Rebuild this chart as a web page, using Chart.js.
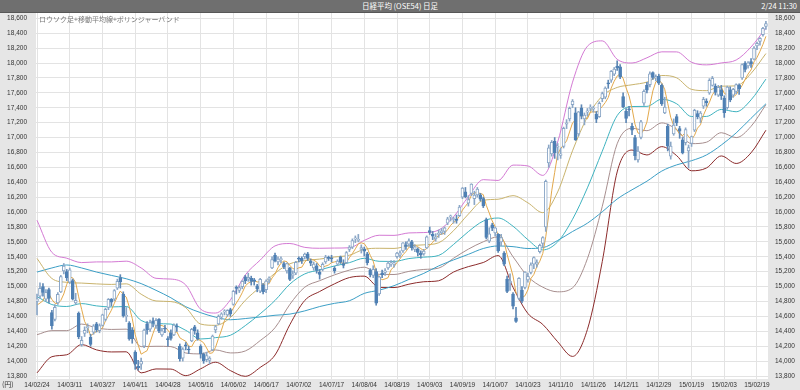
<!DOCTYPE html>
<html>
<head>
<meta charset="utf-8">
<script src="https://cdn.jsdelivr.net/npm/chart.js@4.4.1/dist/chart.umd.min.js"></script>
<style>
  body { margin: 0; background: #fff; }
  #page { position: relative; width: 800px; height: 390px; overflow: hidden; }
  #head { position: absolute; left: 0; top: 0; width: 800px; height: 12px; background: #6f6f6f; border-bottom: 1px solid #575757; color: #fff; font: 7.5px "Noto Sans CJK JP"; line-height: 12px; }
  #head .t { position: absolute; left: 0; right: 0; text-align: center; }
  #head .d { position: absolute; right: 3px; top: 0; }
  #box { position: absolute; left: 0; top: 13px; width: 800px; height: 377px; }
  #sub { position: absolute; left: 39px; top: 14px; font: 7px "Noto Sans CJK JP"; color: #7a7a7a; }
  #yen { position: absolute; left: 2px; top: 379px; font: 7px "Noto Sans CJK JP"; color: #333; }
</style>
</head>
<body>
<div id="page">
  <div id="head"><span class="t">日経平均 (OSE54) 日足</span><span class="d">2/24 11:30</span></div>
  <div id="box"><canvas id="chart" width="800" height="377"></canvas></div>
  <div id="sub">ロウソク足+移動平均線+ボリンジャーバンド</div>
  <div id="yen">(円)</div>
</div>
<script>
// x axis labels, one every 11 sessions
const dates = ['14/02/24','14/03/11','14/03/27','14/04/11','14/04/28','14/05/16','14/06/02','14/06/17',
  '14/07/02','14/07/17','14/08/04','14/08/19','14/09/03','14/09/19','14/10/07','14/10/23','14/11/10',
  '14/11/26','14/12/11','14/12/29','15/01/19','15/02/03','15/02/19'];
const dateIdx = [0,11,22,33,44,55,66,77,88,99,110,121,132,143,154,165,176,187,198,209,220,231,242];
const yTicks = [13800,14000,14200,14400,14600,14800,15000,15200,15400,15600,15800,16000,16200,
  16400,16600,16800,17000,17200,17400,17600,17800,18000,18200,18400,18600];

// daily candles 14/02/24 .. 15/02/24
const opens = [14800,14870,15000,14830,14960,14650,14560,14780,14930,15210,
  15200,15060,15080,14780,14640,14220,14370,14450,14320,14390,
  14500,14410,14480,14560,14720,14830,14830,14980,15120,14900,
  14600,14510,14420,14120,13930,13960,14200,14500,14430,14540,
  14480,14560,14350,14440,14300,14380,14350,14460,14200,14040,
  14220,14150,14270,14460,14380,14200,14090,14020,14010,14150,
  14420,14500,14590,14660,14620,14690,14760,14980,14950,15000,
  15130,15100,15110,15090,15010,14940,15020,14960,15090,15250,
  15420,15330,15360,15310,15210,15250,15150,15180,15370,15380,
  15400,15440,15340,15250,15280,15190,15230,15330,15380,15380,
  15250,15300,15400,15310,15320,15500,15530,15640,15620,15500,
  15500,15440,15220,15150,15200,14900,15180,15190,15250,15300,
  15300,15400,15420,15480,15560,15570,15600,15500,15500,15450,
  15440,15520,15750,15700,15640,15700,15720,15740,15850,15930,
  15900,15900,15950,16200,16270,16120,16250,16180,16230,16230,
  16180,15900,15610,15830,15720,15700,15600,15450,15100,15050,
  14900,14580,14840,14950,14990,15090,15190,15300,15300,15470,
  15580,15800,16660,16780,16950,16870,16760,16880,17180,17250,
  17440,17330,17050,17400,17250,17340,17390,17380,17310,17280,
  17520,17540,17730,17770,17850,17960,17950,17550,17350,17380,
  17150,17000,16700,17000,17460,17700,17710,17870,17800,17820,
  17700,17330,17150,16750,17050,17280,17120,16970,16930,16820,
  16920,17100,17320,17260,17420,17490,17600,17700,17690,17570,
  17640,17530,17400,17640,17570,17620,17700,17800,18000,17960,
  18020,18050,18230,18290,18380,18490];
const highs = [14900,15050,15040,14960,14980,14680,14760,14920,15150,15310,
  15230,15250,15100,14910,14660,14330,14460,14500,14360,14490,
  14520,14500,14630,14710,14840,14840,14960,15100,15160,14930,
  14720,14530,14450,14140,14010,14040,14430,14530,14550,14580,
  14570,14570,14440,14480,14330,14420,14500,14500,14230,14180,
  14250,14200,14440,14480,14420,14220,14110,14120,14060,14350,
  14480,14620,14650,14690,14690,14710,14950,15010,15010,15080,
  15150,15180,15140,15110,15030,15110,15040,15090,15130,15400,
  15450,15400,15400,15330,15320,15260,15210,15340,15400,15400,
  15450,15460,15370,15330,15310,15230,15320,15420,15410,15420,
  15270,15360,15410,15360,15470,15550,15640,15680,15700,15560,
  15530,15460,15240,15280,15240,15140,15220,15240,15340,15350,
  15350,15460,15480,15590,15600,15640,15620,15560,15520,15480,
  15500,15680,15800,15740,15710,15760,15780,15800,15930,15960,
  15930,15960,16090,16330,16330,16220,16380,16280,16330,16250,
  16200,15920,15790,15850,15800,15710,15700,15470,15140,15170,
  14920,14720,15120,15000,15200,15180,15320,15400,15360,15570,
  15670,16430,16900,16960,17000,16920,16860,17140,17240,17410,
  17510,17400,17350,17440,17330,17390,17440,17420,17350,17480,
  17610,17680,17770,17900,17940,18030,17980,17600,17390,17420,
  17190,17030,16880,17230,17640,17740,17880,17880,17840,17850,
  17720,17540,17180,16940,17250,17310,17150,17000,17130,16900,
  17020,17380,17360,17350,17540,17520,17790,17820,17720,17700,
  17700,17560,17690,17680,17660,17720,17720,17990,18020,18020,
  18060,18220,18280,18340,18480,18560];
const lows = [14620,14840,14870,14800,14780,14430,14540,14760,14920,15170,
  15080,15040,14820,14760,14300,14200,14330,14380,14200,14360,
  14390,14380,14470,14540,14690,14740,14810,14960,14980,14590,
  14530,14280,14240,13890,13880,13890,14180,14360,14400,14460,
  14440,14380,14330,14380,14200,14280,14340,14400,14000,14000,
  14150,14100,14260,14360,14280,14040,13970,13990,13960,14140,
  14380,14490,14560,14620,14600,14600,14750,14900,14920,14970,
  15040,15070,15020,15020,14930,14920,14900,14920,15050,15240,
  15330,15290,15320,15240,15180,15080,15110,15160,15330,15310,
  15370,15350,15280,15220,15180,15100,15210,15310,15350,15330,
  15180,15280,15310,15250,15310,15470,15510,15590,15600,15450,
  15410,15290,15130,15120,14750,14880,15120,15150,15230,15270,
  15260,15380,15390,15460,15500,15540,15490,15470,15410,15380,
  15420,15510,15700,15630,15610,15660,15700,15700,15830,15880,
  15850,15850,15940,16180,16190,16080,16220,16100,16200,16150,
  16060,15640,15590,15750,15680,15460,15550,15280,14920,14950,
  14700,14520,14820,14780,14970,15060,15170,15240,15260,15450,
  15530,15740,16600,16750,16720,16700,16720,16860,17120,17220,
  17400,16960,17020,17250,17170,17290,17360,17340,17200,17270,
  17480,17520,17660,17740,17830,17900,17790,17400,17200,17290,
  17040,16700,16670,16980,17430,17600,17680,17780,17760,17710,
  17430,17320,16820,16710,17030,17160,16990,16780,16900,16590,
  16880,17080,17250,17200,17390,17420,17580,17690,17570,17550,
  17510,17270,17380,17480,17540,17590,17580,17780,17880,17930,
  17940,18040,18180,18240,18360,18450];
const closes = [14837,14976,14923,14924,14841,14475,14722,14897,15135,15274,
  15120,15224,14830,14815,14327,14278,14412,14462,14225,14475,
  14423,14477,14622,14696,14828,14791,14946,15071,15063,14607,
  14606,14299,14300,13960,13910,13996,14417,14417,14516,14512,
  14546,14404,14405,14429,14288,14304,14485,14457,14033,14163,
  14199,14149,14425,14405,14298,14097,14006,14075,14042,14337,
  14462,14602,14636,14670,14681,14632,14935,14975,14985,15069,
  15077,15124,15069,15069,14973,15097,14933,15075,15115,15361,
  15349,15369,15376,15266,15308,15095,15162,15326,15369,15348,
  15437,15379,15314,15302,15216,15164,15297,15395,15379,15370,
  15215,15343,15328,15284,15457,15529,15618,15646,15621,15523,
  15474,15320,15159,15232,14778,15130,15161,15213,15314,15318,
  15322,15449,15454,15586,15539,15613,15521,15534,15459,15424,
  15476,15668,15728,15676,15668,15705,15749,15788,15909,15948,
  15911,15888,16067,16321,16205,16167,16374,16229,16310,16173,
  16082,15661,15708,15783,15790,15478,15659,15300,14936,15073,
  14738,14532,15111,14804,15195,15138,15291,15388,15329,15553,
  15658,16413,16862,16937,16792,16880,16780,17124,17197,17392,
  17490,16973,17344,17288,17300,17357,17407,17383,17248,17459,
  17590,17663,17720,17887,17920,17935,17813,17412,17257,17371,
  17099,16755,16819,17210,17621,17635,17854,17808,17818,17729,
  17451,17408,16883,16885,17167,17197,17087,16795,17108,16864,
  17014,17366,17280,17329,17511,17468,17768,17795,17606,17674,
  17558,17335,17678,17504,17648,17711,17652,17979,17913,18004,
  17987,18199,18264,18332,18466,18530];

// short moving average, one value per session
const ma5 = [14752,14779,14810,14905,14900,14828,14777,14772,14814,14901,
  15030,15130,15117,15053,14863,14695,14532,14459,14341,14370,
  14399,14412,14444,14539,14609,14683,14777,14866,14940,14896,
  14859,14729,14575,14354,14215,14093,14117,14140,14251,14372,
  14482,14479,14477,14459,14414,14366,14382,14393,14313,14288,
  14267,14200,14194,14268,14295,14275,14246,14176,14104,14111,
  14184,14304,14416,14541,14610,14644,14711,14779,14842,14919,
  15008,15046,15065,15082,15062,15066,15028,15029,15039,15116,
  15167,15254,15314,15344,15334,15283,15241,15231,15252,15260,
  15328,15372,15369,15356,15330,15275,15259,15275,15290,15321,
  15331,15340,15327,15308,15325,15388,15443,15507,15574,15587,
  15576,15517,15419,15342,15193,15124,15092,15103,15119,15227,
  15266,15323,15371,15426,15470,15528,15543,15559,15533,15510,
  15483,15512,15551,15594,15643,15689,15705,15717,15764,15820,
  15861,15889,15945,16027,16078,16130,16227,16259,16257,16251,
  16234,16091,15987,15881,15805,15684,15684,15602,15433,15289,
  15141,14916,14878,14852,14876,14956,15108,15163,15268,15340,
  15444,15668,15963,16285,16532,16777,16850,16903,16955,17075,
  17197,17235,17279,17297,17279,17252,17339,17347,17339,17371,
  17417,17469,17536,17664,17756,17825,17855,17793,17667,17558,
  17390,17179,17060,17051,17101,17208,17428,17626,17747,17769,
  17732,17643,17458,17271,17159,17108,17044,17026,17071,17010,
  16974,17029,17126,17171,17300,17391,17471,17574,17630,17662,
  17680,17594,17570,17550,17545,17575,17639,17699,17781,17852,
  17907,18016,18073,18157,18250,18358];

// bands and long average, read every 5 sessions
const bandIdx = [0,5,10,15,20,25,30,35,40,45,50,55,60,65,70,75,80,85,90,95,100,105,110,115,120,
  125,130,135,140,145,150,155,160,165,170,175,180,185,190,195,200,205,210,215,220,225,230,235,240,245];
const ma25 = [14866,14759,14733,14772,14741,14727,14733,14546,14503,14497,14413,14297,14315,14347,14476,
  14635,14814,15034,15170,15224,15277,15321,15380,15339,15337,15376,15395,15418,15565,15738,15879,15920,
  15810,15629,15492,15600,15903,16325,16817,17294,17416,17418,17514,17453,17282,17283,17377,17346,17505,17784];
const up2 = [15890,15459,15381,15322,15331,15331,15341,15250,15111,15101,15021,14697,14645,14821,15156,
  15355,15546,15578,15526,15514,15517,15521,15620,15689,15687,15720,15725,15758,15935,16208,16435,16424,
  16630,16619,16492,16940,17743,18225,18297,18050,18000,18070,18150,18149,18010,17975,18001,18040,18215,18470];
const up1 = [15378,15109,15057,15047,15036,15029,15037,14898,14807,14799,14717,14497,14480,14584,14816,
  14995,15180,15306,15348,15369,15397,15421,15500,15514,15512,15548,15560,15588,15750,15973,16157,16172,
  16220,16124,15992,16270,16823,17275,17557,17672,17708,17744,17832,17801,17646,17629,17689,17693,17860,18127];
const dn1 = [14354,14409,14409,14497,14446,14425,14429,14194,14199,14195,14109,14097,14150,14110,14136,
  14275,14448,14762,14992,15079,15157,15221,15260,15164,15162,15204,15230,15248,15380,15503,15601,15668,
  15400,15134,14992,14930,14983,15375,16077,16916,17124,17092,17196,17105,16918,16937,17065,16999,17150,17441];
const dn2 = [13842,14059,14085,14222,14151,14123,14125,13842,13895,13893,13805,13897,13985,13873,13796,
  13915,14082,14490,14814,14934,15037,15121,15140,14989,14987,15032,15065,15078,15195,15268,15323,15416,
  14990,14639,14492,14260,14063,14425,15337,16538,16832,16766,16878,16757,16554,16591,16753,16652,16795,17098];
const ma75 = [15195,15250,15290,15250,15195,15150,15105,15040,14950,14850,14730,14650,14590,14555,14571,
  14592,14615,14631,14674,14732,14775,14810,14909,14952,15012,15096,15177,15277,15358,15433,15511,15545,
  15536,15511,15522,15619,15739,15851,16004,16175,16299,16414,16550,16633,16689,16766,16899,17062,17258,17453];

const days = closes.map((c, i) => i);
const rising = days.map(i => closes[i] >= opens[i]);
const wickData = days.map(i => ({ x: i, y: [lows[i], highs[i]] }));
const bodyData = days.map(i => ({ x: i, y: [opens[i], closes[i]] }));
const daily = arr => arr.map((v, i) => ({ x: i, y: v }));
const sparse = arr => arr.map((v, k) => ({ x: bandIdx[k], y: v }));

const line = (data, color, order, smooth) => ({
  type: 'line', data, borderColor: color, borderWidth: 1, pointRadius: 0,
  cubicInterpolationMode: smooth ? 'monotone' : 'default', tension: 0, order
});

const tickFont = { family: 'Liberation Sans', size: 6.5 };
const Y_MIN = 13760, Y_MAX = 18671;

const panelBg = {
  id: 'panelBg',
  beforeDraw(chart) {
    const { ctx, chartArea: a, width, height } = chart;
    ctx.save();
    ctx.fillStyle = '#e6e6e6';
    ctx.fillRect(0, 0, width, height);
    ctx.fillStyle = '#ffffff';
    ctx.fillRect(a.left, a.top, a.right - a.left, a.bottom - a.top);
    ctx.restore();
  }
};

new Chart(document.getElementById('chart'), {
  type: 'bar',
  data: {
    datasets: [
      { type: 'bar', data: bodyData,
        backgroundColor: rising.map(r => r ? '#ffffff' : '#4f80b4'),
        borderColor: rising.map(r => r ? '#8aa6c6' : '#4f80b4'),
        borderWidth: 1, borderSkipped: false, barThickness: 3, minBarLength: 1, grouped: false, order: 0 },
      { type: 'bar', data: wickData, backgroundColor: rising.map(r => r ? '#8aa6c6' : '#5f88b5'),
        barThickness: 1, grouped: false, order: 1 },
      line(daily(ma5), '#e3a94c', 2, false),
      line(sparse(up2), '#d47ad4', 3, true),
      line(sparse(up1), '#c9b36c', 4, true),
      line(sparse(ma25), '#3fb3c0', 5, true),
      line(sparse(ma75), '#3c9fc6', 6, true),
      line(sparse(dn1), '#a88f8f', 7, true),
      line(sparse(dn2), '#8c2b2b', 8, true)
    ]
  },
  options: {
    responsive: false,
    animation: false,
    layout: { padding: 0 },
    plugins: { legend: { display: false }, tooltip: { enabled: false }, title: { display: false } },
    scales: {
      x: {
        type: 'linear', min: -0.34, max: 245.7, offset: false,
        grid: { color: '#e3e3e3', drawTicks: false, offset: false },
        border: { display: false },
        afterBuildTicks: s => { s.ticks = dateIdx.map(v => ({ value: v })); },
        afterFit: s => { s.height = 11; s.paddingLeft = 0; s.paddingRight = 0; },
        ticks: { autoSkip: false, maxRotation: 0, padding: 2, color: '#333', font: tickFont,
          callback: (v, i) => dates[i] }
      },
      y: {
        position: 'left', min: Y_MIN, max: Y_MAX, beginAtZero: false,
        grid: { color: '#e3e3e3', drawTicks: false },
        border: { display: false },
        afterBuildTicks: s => { s.ticks = yTicks.map(v => ({ value: v })); },
        afterFit: s => { s.width = 36; s.paddingTop = 0; s.paddingBottom = 0; },
        ticks: { padding: 9, color: '#333', font: tickFont, callback: v => v.toLocaleString('en-US') }
      },
      y2: {
        position: 'right', min: Y_MIN, max: Y_MAX, beginAtZero: false,
        grid: { display: false, drawTicks: false },
        border: { display: false },
        afterBuildTicks: s => { s.ticks = yTicks.map(v => ({ value: v })); },
        afterFit: s => { s.width = 32; s.paddingTop = 0; s.paddingBottom = 0; },
        ticks: { padding: 7, color: '#333', font: tickFont, callback: v => v.toLocaleString('en-US') }
      }
    }
  },
  plugins: [panelBg]
});
</script>
</body>
</html>
